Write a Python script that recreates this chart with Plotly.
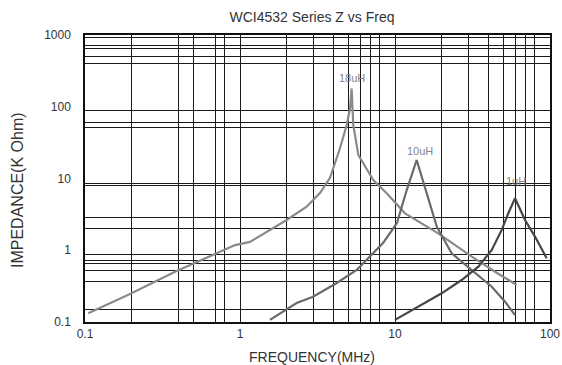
import math
import plotly.graph_objects as go

# ---- data ----
freq_18uH = [0.105, 0.195, 0.381, 0.707, 0.929, 1.16, 1.56, 2.0, 2.69, 3.28, 3.81, 4.42, 4.88, 5.13, 5.25,
             5.38, 5.80, 6.73, 7.24, 8.84, 11.6, 19.0, 31.3, 44.2, 61.0]
z_18uH = [0.132, 0.245, 0.502, 0.906, 1.18, 1.31, 1.92, 2.64, 4.05, 6.28, 10.2, 26.6, 55.7, 96, 180,
          55.7, 21.3, 12.4, 9.53, 6.22, 3.27, 1.72, 0.815, 0.502, 0.328]

freq_10uH = [1.56, 2.32, 2.96, 4.21, 5.66, 6.90, 8.37, 10.3, 11.9, 13.8, 16.0, 18.6, 23.2, 31.3, 42.1, 51.3, 59.5]
z_10uH = [0.107, 0.184, 0.225, 0.350, 0.531, 0.814, 1.26, 2.4, 6.9, 18.1, 6.28, 2.13, 0.906, 0.531, 0.310, 0.192, 0.125]

freq_1uH = [10.0, 14.1, 20.0, 26.9, 34.5, 42.1, 48.8, 53.8, 59.5, 69.0, 80.0, 95.2]
z_1uH = [0.107, 0.163, 0.251, 0.385, 0.590, 1.01, 1.92, 3.27, 5.30, 2.64, 1.55, 0.773]

series_names = ["18uH", "10uH", "1uH"]
series_colors = ["#8a8a8a", "#6a6a6a", "#454545"]

x_tick_vals = [0.1, 1, 10, 100]
x_tick_text = ["0.1", "1", "10", "100"]
y_tick_vals = [0.1, 1, 10, 100, 1000]
y_tick_text = ["0.1", "1", "10", "100", "1000"]

x_grid_vals = [0.2, 0.4, 0.5, 0.7, 0.8, 1, 2, 3, 4, 5, 6, 7, 8, 10, 20, 30, 40, 50, 60, 70, 80]
y_grid_vals = [920, 710, 640, 500, 400, 90, 60, 52, 8.6, 8.0, 2.85, 2.0, 0.86, 0.73, 0.66, 0.53, 0.365, 0.147]

# label positions (freq, Z)
label_pos = [(5.3, 255), (14.5, 24), (60, 9.3)]

W, H = 562, 365

fig = go.Figure()
for f, z, name, col in zip([freq_18uH, freq_10uH, freq_1uH], [z_18uH, z_10uH, z_1uH], series_names, series_colors):
    fig.add_trace(go.Scatter(x=f, y=z, mode="lines", name=name,
                             line=dict(color=col, width=2.2), showlegend=False))

for (fx, fy), name in zip(label_pos, series_names):
    fig.add_annotation(x=math.log10(fx), y=math.log10(fy), xref="x", yref="y", text=name,
                       showarrow=False, font=dict(size=11, color="#858585"))

grid_col = "#1a1a1a"
fig.update_xaxes(type="log", range=[-1, 2], tickmode="array", tickvals=x_tick_vals, ticktext=x_tick_text,
                 showgrid=False, ticks="", showline=True, linecolor="#111", linewidth=1.5, mirror=True,
                 tickfont=dict(size=12, color="#333"), zeroline=False, automargin=False,
                 ticklabeloverflow="allow",
                 minor=dict(tickmode="array", tickvals=x_grid_vals, showgrid=True,
                            gridcolor=grid_col, gridwidth=1.4, ticks=""))
fig.update_yaxes(type="log", range=[-1, 3], tickmode="array", tickvals=y_tick_vals, ticktext=y_tick_text,
                 showgrid=False, ticks="", showline=True, linecolor="#111", linewidth=1.5, mirror=True,
                 tickfont=dict(size=12, color="#333"), ticklabelstandoff=10, zeroline=False, automargin=False,
                 ticklabeloverflow="allow",
                 minor=dict(tickmode="array", tickvals=y_grid_vals, showgrid=True,
                            gridcolor=grid_col, gridwidth=1.4, ticks=""))

fig.add_annotation(text="FREQUENCY(MHz)", xref="paper", yref="paper", x=(312 - 85) / 465, y=(322 - 357) / 287,
                   showarrow=False, font=dict(size=14, color="#333"), xanchor="center", yanchor="middle")
fig.add_annotation(text="IMPEDANCE(K Ohm)", xref="paper", yref="paper", x=(17 - 85) / 465, y=(322 - 190) / 287,
                   showarrow=False, textangle=-90, font=dict(size=16, color="#333"),
                   xanchor="center", yanchor="middle")

fig.update_layout(
    width=W, height=H,
    margin=dict(l=85, r=12, t=35, b=43, autoexpand=False),
    paper_bgcolor="white", plot_bgcolor="white",
    font=dict(family="Liberation Sans, Arial, sans-serif", color="#333"),
    title=dict(text="WCI4532 Series Z vs Freq", x=312 / W, xref="container", xanchor="center",
               y=1 - 17 / H, yref="container", yanchor="middle", automargin=False,
               font=dict(size=14, color="#333")),
)

fig.write_html("out.html", config={"displayModeBar": False},
               post_script="document.body.style.margin='0';document.body.style.overflow='hidden';")
